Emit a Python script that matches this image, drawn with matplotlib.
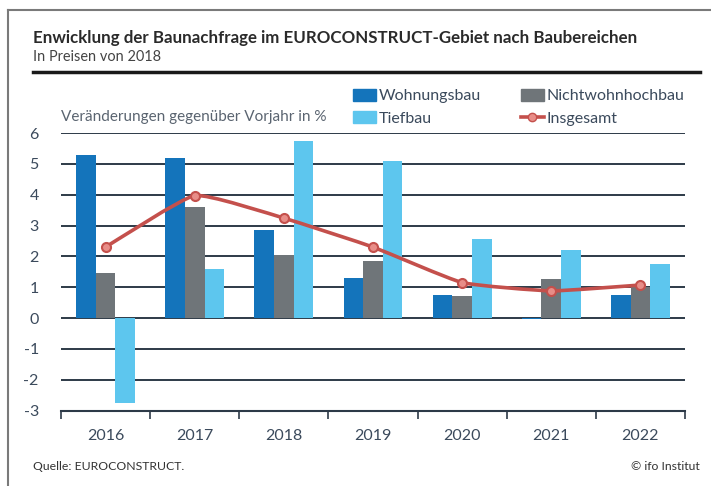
import matplotlib
matplotlib.use('Agg')
import matplotlib.pyplot as plt
import numpy as np
from matplotlib import font_manager
from matplotlib.path import Path
from matplotlib.patches import PathPatch, Patch
from matplotlib.lines import Line2D

# data
years = ['2016', '2017', '2018', '2019', '2020', '2021', '2022']
wohnungsbau = [5.3, 5.2, 2.85, 1.3, 0.75, -0.03, 0.75]
nichtwohnhochbau = [1.45, 3.6, 2.05, 1.85, 0.72, 1.25, 1.0]
tiefbau = [-2.75, 1.6, 5.75, 5.1, 2.55, 2.2, 1.75]
insgesamt = [2.3, 3.97, 3.24, 2.3, 1.15, 0.88, 1.07]
yticks = [-3, -2, -1, 0, 1, 2, 3, 4, 5, 6]

names = {f.name for f in font_manager.fontManager.ttflist}
fam = 'DejaVu Sans'
for cand in ['Liberation Sans Narrow', 'Lato', 'Roboto']:
    if cand in names:
        fam = cand
        break
plt.rcParams['font.family'] = [fam, 'DejaVu Sans']

c_w = '#1474bb'
c_n = '#6f7579'
c_t = '#5dc6ee'
c_i = '#c4504c'
c_txt = '#3b4a5c'

fig = plt.figure(figsize=(7.11, 4.86), dpi=100)
fig.patch.set_facecolor('white')
renderer = fig.canvas.get_renderer()


def fit_width(txt, px):
    # shrink/grow font so the text spans the width seen in the reference
    bb = txt.get_window_extent(renderer)
    txt.set_fontsize(txt.get_fontsize() * px / bb.width)


# frame
fig.add_artist(Line2D([8/711, 8/711], [0, 1-10/486], transform=fig.transFigure,
                      color='#7a7a7a', lw=1.5))
fig.add_artist(Line2D([8/711, 1], [1-10/486, 1-10/486], transform=fig.transFigure,
                      color='#7a7a7a', lw=1.5))

ax = fig.add_axes([61/711, 1-410.5/486, 624/711, 277.5/486])
ax.patch.set_alpha(0.0)

x = np.arange(len(years))
w = 0.22
ax.bar(x - w, wohnungsbau, w, color=c_w, zorder=3)
ax.bar(x, nichtwohnhochbau, w, color=c_n, zorder=3)
ax.bar(x + w, tiefbau, w, color=c_t, zorder=3)

# lightly smoothed total line (bezier through the data points)
pts = np.column_stack([x, insgesamt]).astype(float)
ext = np.vstack([pts[0], pts, pts[-1]])
verts = [pts[0]]
codes = [Path.MOVETO]
k = 14.0
for i in range(len(pts) - 1):
    p0, p1, p2, p3 = ext[i], ext[i+1], ext[i+2], ext[i+3]
    verts += [p1 + (p2 - p0)/k, p2 - (p3 - p1)/k, p2]
    codes += [Path.CURVE4]*3
ax.add_patch(PathPatch(Path(verts, codes), facecolor='none', edgecolor=c_i,
                       lw=2.6, zorder=4))
ax.plot(x, insgesamt, linestyle='none', marker='o', ms=6.5, mfc='#e88d88',
        mec=c_i, mew=1.5, zorder=5)

ax.set_xlim(-0.5, 6.5)
ax.set_ylim(-3, 6)
ax.set_yticks(yticks)
ax.set_yticklabels([str(v) for v in yticks])
ax.set_xticks(x)
ax.set_xticklabels(years)
ax.set_xticks(np.arange(-0.5, 7, 1), minor=True)
ax.tick_params(axis='x', which='major', length=0, pad=13, labelsize=11.5,
               labelcolor=c_txt)
ax.tick_params(axis='x', which='minor', length=6, width=1.2, color='#2d3a48')
ax.tick_params(axis='y', length=0, pad=16, labelsize=11.5, labelcolor=c_txt)
for s in ['top', 'right', 'left']:
    ax.spines[s].set_visible(False)
ax.spines['bottom'].set_color('#2d3a48')
ax.spines['bottom'].set_linewidth(1.5)
ax.grid(axis='y', color='#2d3a48', lw=1.4, zorder=1)
ax.set_axisbelow(True)

yl = fig.text(61/711, 1-117/486, 'Veränderungen gegenüber Vorjahr in %',
              fontsize=11.5, color='#5a6470', va='center')
fit_width(yl, 266)

# legend
handles = [Patch(color=c_w), Patch(color=c_t), Patch(color=c_n),
           Line2D([], [], color=c_i, lw=2.6, marker='o', ms=6, mfc='#e88d88',
                  mec=c_i)]
labels = ['Wohnungsbau', 'Tiefbau', 'Nichtwohnhochbau', 'Insgesamt']
leg = fig.legend(handles, labels, ncol=2, loc='upper left',
                 bbox_to_anchor=(353/711, 1-89/486), frameon=False,
                 fontsize=11.5, handlelength=1.45, handleheight=0.75,
                 handletextpad=0.15, columnspacing=2.5, labelspacing=0.5,
                 borderaxespad=0, borderpad=0)
for t in leg.get_texts():
    t.set_color(c_txt)

# titles
tt = fig.text(33/711, 1-38/486,
              'Enwicklung der Baunachfrage im EUROCONSTRUCT-Gebiet nach Baubereichen',
              fontsize=13, fontweight='bold', color='#2a2a2a', va='center')
fit_width(tt, 604)
st = fig.text(33/711, 1-57/486, 'In Preisen von 2018', fontsize=10,
              color='#444444', va='center')
fit_width(st, 128)
fig.add_artist(Line2D([33/711, 700/711], [1-72/486, 1-72/486],
                      transform=fig.transFigure, color='#1a1a1a', lw=2.5))
q = fig.text(33/711, 1-466/486, 'Quelle: EUROCONSTRUCT.', fontsize=10,
             color='#333333', va='center')
fit_width(q, 150)
fig.text(700/711, 1-466/486, '© ifo Institut', fontsize=q.get_fontsize(),
         color='#333333', va='center', ha='right')

fig.savefig('out.png', dpi=100)
